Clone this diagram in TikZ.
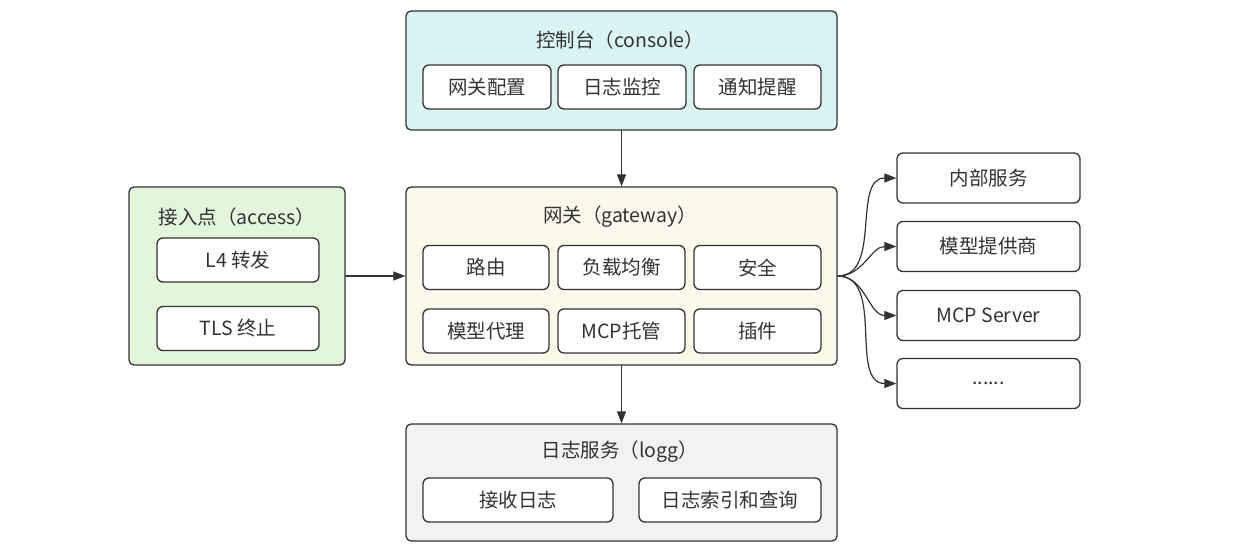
\documentclass[tikz,border=0pt]{standalone}
\usepackage{fontspec}
\setmainfont{Noto Sans CJK SC}
\usetikzlibrary{arrows.meta}
\definecolor{txt}{HTML}{333333}
\definecolor{cyanbg}{HTML}{DAF4F4}
\definecolor{yellowbg}{HTML}{FBF8EC}
\definecolor{greenbg}{HTML}{E3F5DB}
\definecolor{graybg}{HTML}{F2F2F2}
\begin{document}
\begin{tikzpicture}[x=1pt,y=-1pt,font=\fontsize{19.5}{22}\selectfont,text=txt,line join=round,line cap=round,
	outer/.style={draw=txt,line width=1.3pt,rounded corners=5pt},
	item/.style={draw=txt,fill=white,line width=1.3pt,rounded corners=6pt,minimum height=44pt},
	arr/.style={draw=txt,line width=1.2pt,-{Triangle[length=12pt,width=9pt]}}]
	\useasboundingbox (0,0) rectangle (1239,555);
	% console
	\node[outer,fill=cyanbg,minimum width=431pt,minimum height=119pt] (console) at (621.5,70.5) {};
	\node (consoletitle) at (620,40) {控制台（console）};
	\node[item,minimum width=128pt] (cfg) at (487,87) {网关配置};
	\node[item,minimum width=128pt] (mon) at (622,87) {日志监控};
	\node[item,minimum width=127pt] (ntf) at (757.5,87) {通知提醒};
	% gateway
	\node[outer,fill=yellowbg,minimum width=431pt,minimum height=178pt] (gw) at (621.5,276) {};
	\node (gwtitle) at (620,217) {网关（gateway）};
	\node[item,minimum width=126pt] (route) at (486,267.5) {路由};
	\node[item,minimum width=127pt] (lb) at (621.5,267.5) {负载均衡};
	\node[item,minimum width=127pt] (sec) at (757.5,267.5) {安全};
	\node[item,minimum width=126pt] (proxy) at (486,331) {模型代理};
	\node[item,minimum width=127pt] (mcp) at (621.5,331) {MCP托管};
	\node[item,minimum width=127pt] (plug) at (757.5,331) {插件};
	% access
	\node[outer,fill=greenbg,minimum width=216pt,minimum height=178pt] (acc) at (237,276) {};
	\node (acctitle) at (237,217) {接入点（access）};
	\node[item,minimum width=162pt] (l4) at (238,260) {L4 转发};
	\node[item,minimum width=162pt] (tls) at (238,328.5) {TLS 终止};
	% logg
	\node[outer,fill=graybg,minimum width=431pt,minimum height=117pt] (logg) at (621.5,482.5) {};
	\node (loggtitle) at (620,452) {日志服务（logg）};
	\node[item,minimum width=190pt] (recv) at (518,500) {接收日志};
	\node[item,minimum width=182pt] (query) at (730,500) {日志索引和查询};
	% upstreams
	\node[item,minimum width=183pt,minimum height=50pt] (inner) at (988.5,178) {内部服务};
	\node[item,minimum width=183pt,minimum height=50pt] (prov) at (988.5,246.5) {模型提供商};
	\node[item,minimum width=183pt,minimum height=50pt] (mcps) at (988.5,315.5) {MCP Server};
	\node[item,minimum width=183pt,minimum height=50pt] (more) at (988.5,383.5) {......};
	% links
	\draw[arr] (console.south) -- (gw.north);
	\draw[arr] (gw.south) -- (logg.north);
	\draw[arr] (acc.east) -- (gw.west);
	\foreach \t in {inner,prov,mcps,more}
		\draw[arr] (gw.east) to[out=0,in=180] (\t.west);
\end{tikzpicture}
\end{document}
